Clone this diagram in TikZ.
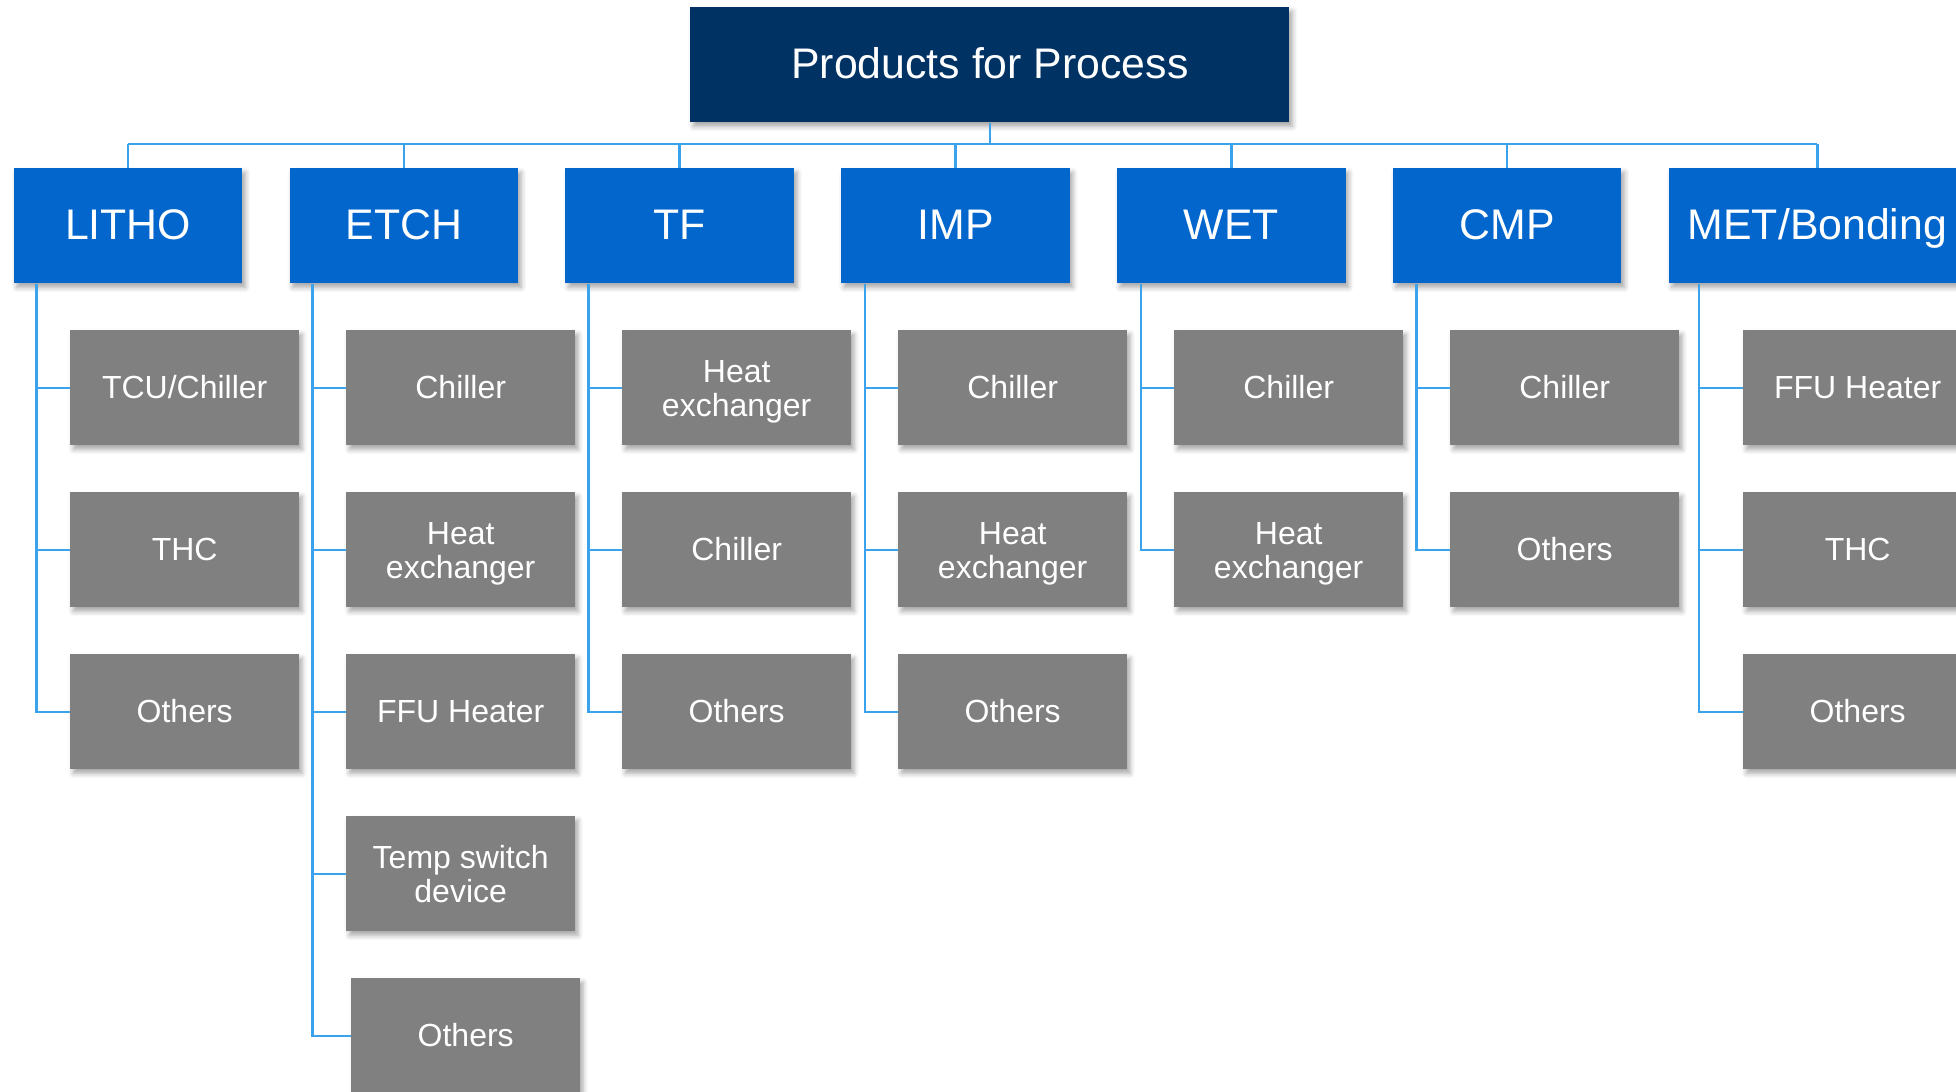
\documentclass[tikz,border=0pt]{standalone}
\usepackage{fontspec}
\setmainfont{Liberation Sans}
\usetikzlibrary{shadows.blur,calc}
\definecolor{navy}{RGB}{0,50,100}
\definecolor{catblue}{RGB}{3,102,204}
\definecolor{subgray}{RGB}{128,128,128}
\definecolor{linkblue}{RGB}{59,163,238}
\newcommand\heatx{\rule{0pt}{14.85pt}Heat\\exchanger}
\begin{document}
\begin{tikzpicture}[x=0.5pt,y=-0.5pt,
  box/.style={rectangle, inner sep=0pt, text=white, align=center,
    blur shadow={shadow xshift=1.5pt, shadow yshift=-2pt, shadow blur radius=2.5pt, shadow opacity=35}},
  titlebox/.style={box, fill=navy, minimum width=299.5pt, minimum height=57.5pt, font=\fontsize{21.4}{24}\selectfont, text height=15.3pt, text depth=2.2pt},
  catbox/.style={box, fill=catblue, minimum width=114.3pt, minimum height=57.5pt, font=\fontsize{21.4}{24}\selectfont, text height=15.3pt, text depth=2.2pt, anchor=north west},
  subbox/.style={box, fill=subgray, minimum width=114.3pt, minimum height=57.5pt, font=\fontsize{16}{17}\selectfont, anchor=north west},
  oneline/.style={text height=11.5pt, text depth=0.8pt},
  conn/.style={draw=linkblue, line width=1.3pt}]
\useasboundingbox (0,0) rectangle (1956,1092);
\clip (0,0) rectangle (1956,1092);
\coordinate (bar) at (0,144);
% title
\node[titlebox, anchor=north west] (title) at (690,7) {Products for Process};
% categories
\node[catbox] (litho) at (13.4,168) {LITHO};
\node[catbox] (etch) at (289.2,168) {ETCH};
\node[catbox] (tf) at (565,168) {TF};
\node[catbox] (imp) at (840.8,168) {IMP};
\node[catbox] (wet) at (1116.6,168) {WET};
\node[catbox] (cmp) at (1392.4,168) {CMP};
\node[catbox, minimum width=148.5pt] (met) at (1668.5,168) {MET/Bonding};
% sub boxes
\node[subbox, oneline] (l1) at (70,330) {TCU/Chiller};
\node[subbox, oneline] (l2) at (70,492) {THC};
\node[subbox, oneline] (l3) at (70,654) {Others};
\node[subbox, oneline] (e1) at (346,330) {Chiller};
\node[subbox] (e2) at (346,492) {\heatx};
\node[subbox, oneline] (e3) at (346,654) {FFU Heater};
\node[subbox] (e4) at (346,816) {Temp switch\\device};
\node[subbox, oneline] (e5) at (351,978) {Others};
\node[subbox] (t1) at (622,330) {\heatx};
\node[subbox, oneline] (t2) at (622,492) {Chiller};
\node[subbox, oneline] (t3) at (622,654) {Others};
\node[subbox, oneline] (i1) at (898,330) {Chiller};
\node[subbox] (i2) at (898,492) {\heatx};
\node[subbox, oneline] (i3) at (898,654) {Others};
\node[subbox, oneline] (w1) at (1174,330) {Chiller};
\node[subbox] (w2) at (1174,492) {\heatx};
\node[subbox, oneline] (c1) at (1450,330) {Chiller};
\node[subbox, oneline] (c2) at (1450,492) {Others};
\node[subbox, oneline] (m1) at (1743,330) {FFU Heater};
\node[subbox, oneline] (m2) at (1743,492) {THC};
\node[subbox, oneline] (m3) at (1743,654) {Others};
% top connectors
\draw[conn] (title.south) -- (title.south |- bar);
\draw[conn] (litho.north |- bar) -- (met.north |- bar);
\foreach \c in {litho,etch,tf,imp,wet,cmp,met}{
  \draw[conn] (\c.north) -- (\c.north |- bar);
}
% trunks
\coordinate (lt) at ($(litho.south west)+(23,0)$);
\coordinate (et) at ($(etch.south west)+(23.3,0)$);
\coordinate (tt) at ($(tf.south west)+(23.5,0)$);
\coordinate (it) at ($(imp.south west)+(24,0)$);
\coordinate (wt) at ($(wet.south west)+(24.4,0)$);
\coordinate (ct) at ($(cmp.south west)+(24.2,0)$);
\coordinate (mt) at ($(met.south west)+(30.5,0)$);
\foreach \t/\s in {lt/l1,lt/l2,lt/l3,et/e1,et/e2,et/e3,et/e4,et/e5,tt/t1,tt/t2,tt/t3,it/i1,it/i2,it/i3,wt/w1,wt/w2,ct/c1,ct/c2,mt/m1,mt/m2,mt/m3}{
  \draw[conn] (\t) |- (\s.west);
}
\end{tikzpicture}
\end{document}
